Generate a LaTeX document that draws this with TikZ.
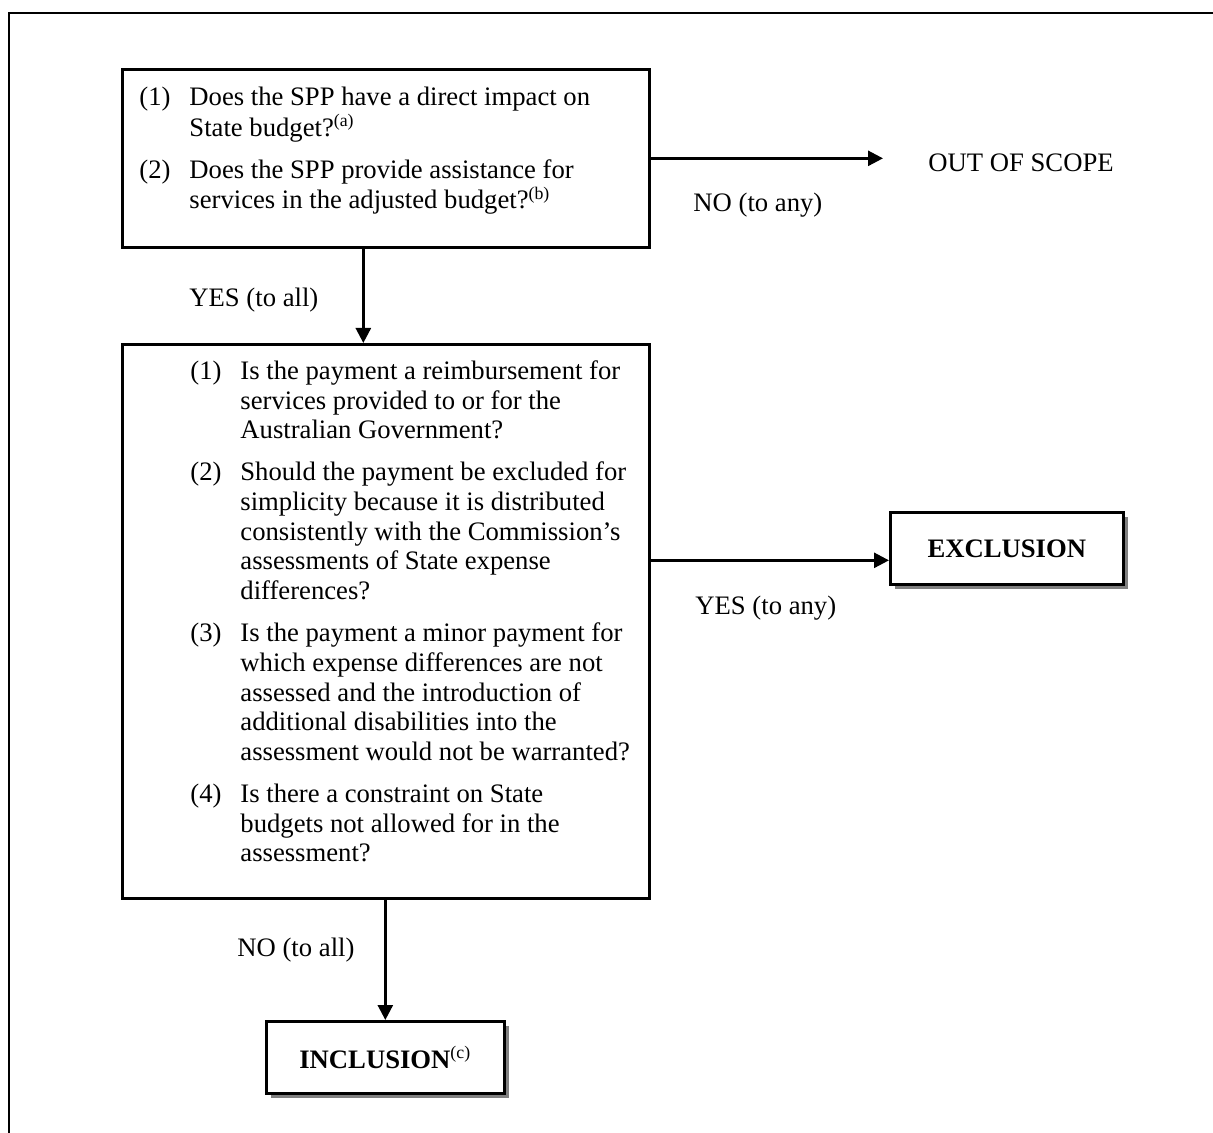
\documentclass[tikz,border=0pt]{standalone}
\usepackage{fontspec}
\setmainfont{Liberation Serif}
\usetikzlibrary{arrows.meta,positioning,shadows}

\tikzset{
  qbox/.style={draw, line width=1.2pt, fill=white, inner sep=0pt, anchor=north west},
  endbox/.style={qbox, font=\fontsize{12}{13.4}\selectfont\bfseries,
    drop shadow={shadow xshift=2.25pt, shadow yshift=-2.25pt, fill=black!50, opacity=1}},
  qtext/.style={inner sep=0pt, anchor=north west},
  lbl/.style={inner sep=0pt, anchor=west},
  flow/.style={line width=1.2pt, -{Triangle[length=6.75pt,width=6.75pt]}},
}

\begin{document}
\begin{tikzpicture}[x=0.45pt, y=-0.45pt, font=\fontsize{12}{13.4}\selectfont]
    \useasboundingbox (0,0) rectangle (1213,1133);

    % Cadre
    \draw[line width=1.2pt] (9,1133) -- (9,13) -- (1213,13);

    % Premiere question
    \node[qbox, minimum width=237.15pt, minimum height=80.1pt] (scope) at (121,68) {};
    \node[qtext] (scopeq) at (139,84) {%
      \begin{tabular}{@{}p{22.5pt}@{}l@{}}
        (1) & Does the SPP have a direct impact on\\
            & State budget?\textsuperscript{(a)}\\[5.4pt]
        (2) & Does the SPP provide assistance for\\
            & services in the adjusted budget?\textsuperscript{(b)}
      \end{tabular}};

    % Deuxieme question
    \node[qbox, minimum width=237.15pt, minimum height=249.3pt] (decide) at (121,343) {};
    \node[qtext] (decideq) at (190,358) {%
      \begin{tabular}{@{}p{22.5pt}@{}l@{}}
        (1) & Is the payment a reimbursement for\\
            & services provided to or for the\\
            & Australian Government?\\[5.4pt]
        (2) & Should the payment be excluded for\\
            & simplicity because it is distributed\\
            & consistently with the Commission’s\\
            & assessments of State expense\\
            & differences?\\[5.4pt]
        (3) & Is the payment a minor payment for\\
            & which expense differences are not\\
            & assessed and the introduction of\\
            & additional disabilities into the\\
            & assessment would not be warranted?\\[5.4pt]
        (4) & Is there a constraint on State\\
            & budgets not allowed for in the\\
            & assessment?
      \end{tabular}};

    % Issues
    \node[lbl] (outscope) at (928,163) {OUT OF SCOPE};
    \node[endbox, minimum width=104.85pt, minimum height=32.4pt] (excl) at (889,511) {EXCLUSION};
    \node[endbox, minimum width=107.1pt, minimum height=32.4pt] (incl) at (265,1020)
      {INCLUSION\textsuperscript{\normalfont(c)}};

    % Fleches
    \draw[flow, shorten >=20.25pt] (scope.east) -- (scope.east -| outscope.west);
    \coordinate (downyes) at ([xshift=-10.125pt]scope.south);
    \draw[flow] (downyes) -- (downyes |- decide.north);
    \coordinate (rightyes) at ([yshift=-5.4pt]excl.west);
    \draw[flow] (rightyes -| decide.east) -- (rightyes);
    \draw[flow] (decide.south -| incl.north) -- (incl.north);

    % Etiquettes
    \node[lbl] (noany) at (693,205) {NO (to any)};
    \node[lbl] (yesall) at (189,300) {YES (to all)};
    \node[lbl] (yesany) at (695,608) {YES (to any)};
    \node[lbl] (noall) at (237,950) {NO (to all)};
\end{tikzpicture}
\end{document}
